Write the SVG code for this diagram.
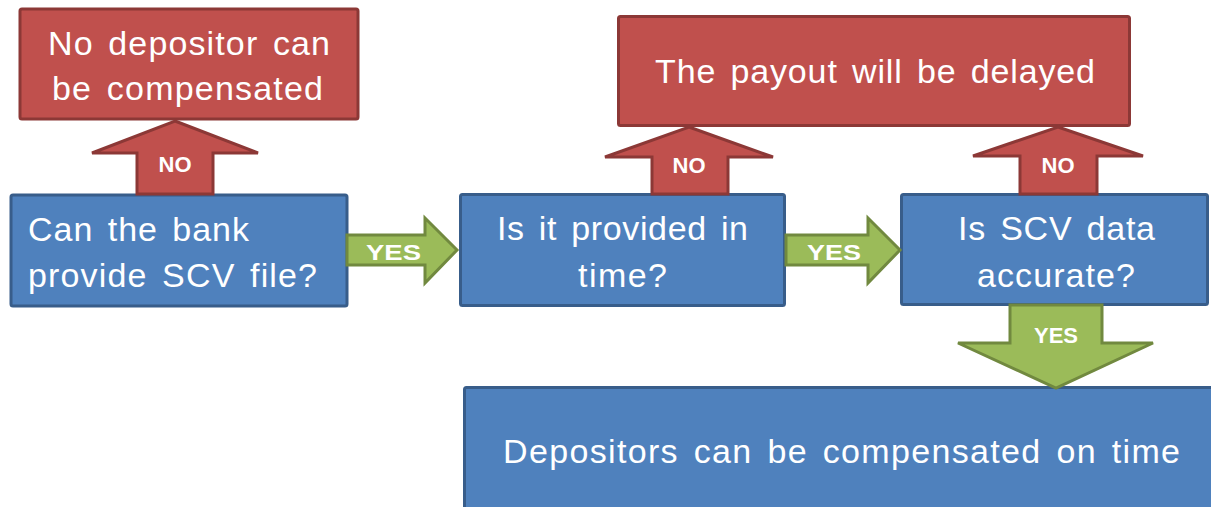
<svg xmlns="http://www.w3.org/2000/svg" width="1211" height="507" viewBox="0 0 1211 507">
<style>
.red{fill:#C0504D;stroke:#8C3836;stroke-width:3}
.blue{fill:#4F81BD;stroke:#385D8A;stroke-width:3}
.green{fill:#9BBB59;stroke:#71893F;stroke-width:3}
.t{font-family:"Liberation Sans",Arial,sans-serif;font-size:34px;word-spacing:4px;fill:#FFFFFF}
.lbl{font-family:"Liberation Sans",Arial,sans-serif;font-size:22px;font-weight:bold;fill:#FFFFFF}
</style>
<rect width="1211" height="507" fill="#FFFFFF"/>
<g id="node-no-depositor">
<rect class="red" x="20" y="9" width="338" height="110" rx="2"/>
<text class="t" x="48" y="55" textLength="282" lengthAdjust="spacing">No depositor can</text>
<text class="t" x="52" y="100" textLength="271" lengthAdjust="spacing">be compensated</text>
</g>
<g id="node-payout-delayed">
<rect class="red" x="618.5" y="16.5" width="511" height="109" rx="2"/>
<text class="t" x="655" y="83" textLength="440" lengthAdjust="spacing">The payout will be delayed</text>
</g>
<g id="node-can-provide">
<rect class="blue" x="11" y="195" width="336" height="111" rx="2"/>
<text class="t" x="28" y="241" textLength="221" lengthAdjust="spacing">Can the bank</text>
<text class="t" x="28" y="287" textLength="289" lengthAdjust="spacing">provide SCV file?</text>
</g>
<g id="node-in-time">
<rect class="blue" x="460.5" y="194.5" width="324" height="111" rx="2"/>
<text class="t" x="497" y="240" textLength="251" lengthAdjust="spacing">Is it provided in</text>
<text class="t" x="578" y="287" textLength="89" lengthAdjust="spacing">time?</text>
</g>
<g id="node-accurate">
<rect class="blue" x="901.5" y="194.5" width="306" height="110" rx="2"/>
<text class="t" x="958" y="240" textLength="197" lengthAdjust="spacing">Is SCV data</text>
<text class="t" x="977" y="287" textLength="158" lengthAdjust="spacing">accurate?</text>
</g>
<g id="node-compensated">
<rect class="blue" x="464.5" y="387.5" width="760" height="130" rx="2"/>
<text class="t" x="503" y="463" textLength="677" lengthAdjust="spacing">Depositors can be compensated on time</text>
</g>
<g id="connectors">
<polygon class="red" points="175,121 258,153 213,153 213,194 137,194 137,153 92,153"/>
<text class="lbl" x="175" y="172" text-anchor="middle">NO</text>
<polygon class="red" points="689,127 773,157 728,157 728,194 652,194 652,157 605,157"/>
<text class="lbl" x="689" y="173" text-anchor="middle">NO</text>
<polygon class="red" points="1058,127 1143,156 1097,156 1097,194 1020,194 1020,156 973,156"/>
<text class="lbl" x="1058" y="173" text-anchor="middle">NO</text>
<polygon class="green" points="347,235 425,235 425,218 457,250 425,283 425,265 347,265"/>
<text class="lbl" x="366" y="260" font-size="24" textLength="55" lengthAdjust="spacingAndGlyphs">YES</text>
<polygon class="green" points="786,235 868,235 868,218 900,250 868,283 868,265 786,265"/>
<text class="lbl" x="807" y="260" font-size="24" textLength="54" lengthAdjust="spacingAndGlyphs">YES</text>
<polygon class="green" points="1010,305 1102,305 1102,343 1153,343 1056,388 958,343 1010,343"/>
<text class="lbl" x="1056" y="343" text-anchor="middle">YES</text>
</g>
</svg>
